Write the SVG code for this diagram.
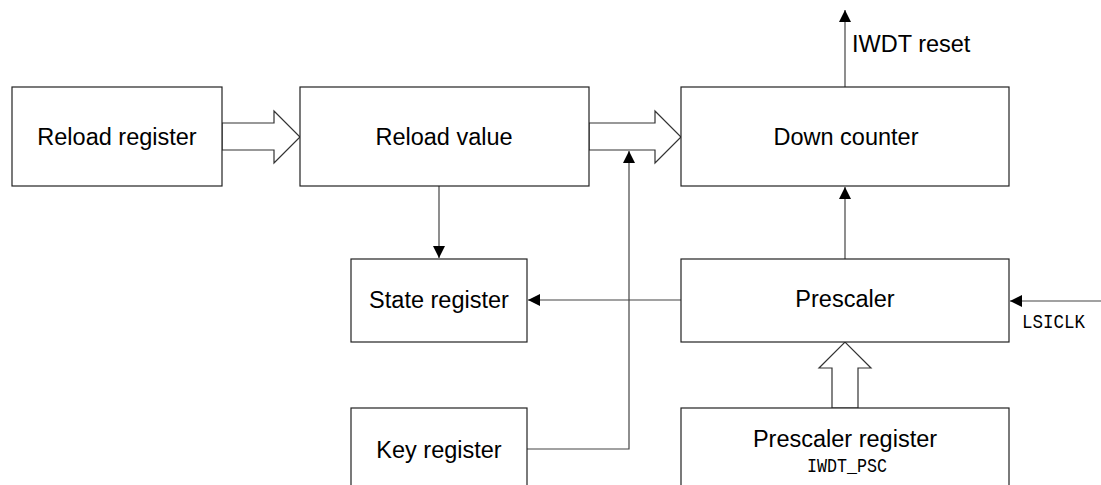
<svg xmlns="http://www.w3.org/2000/svg" width="1101" height="485" viewBox="0 0 1101 485">
<style>
.box{fill:#fff;stroke:#222;stroke-width:1.2}
.hollow{fill:#fff;stroke:#333;stroke-width:1.2}
.t{font-family:"Liberation Sans",Arial,sans-serif;font-size:23.5px;fill:#000;text-anchor:middle}
.m{font-family:"Liberation Mono","DejaVu Sans Mono",monospace;font-size:20px;fill:#000}
.c{fill:none;stroke:#444;stroke-width:1.2}
</style>
<defs>
<marker id="ah" markerUnits="userSpaceOnUse" markerWidth="12" markerHeight="12" viewBox="0 0 12 12" refX="12" refY="6" orient="auto">
<path d="M0,0 L12,6 L0,12 z" fill="#000"/>
</marker>
</defs>
<g id="connectors">
<polygon class="hollow" points="222,123 274,123 274,111 300,137 274,163 274,150 222,150"/>
<polygon class="hollow" points="589,123 655,123 655,111 681,137 655,163 655,150 589,150"/>
<polygon class="hollow" points="832,408 832,368 819,368 845,342 871,368 858,368 858,408"/>
<path class="c" d="M439,186 L439,258" marker-end="url(#ah)"/>
<path class="c" d="M681,300 L528,300" marker-end="url(#ah)"/>
<path class="c" d="M845,259 L845,187" marker-end="url(#ah)"/>
<path class="c" d="M845,87 L845,10" marker-end="url(#ah)"/>
<path class="c" d="M1101,301 L1010,301" marker-end="url(#ah)"/>
<path class="c" d="M527,449 L629,449 L629,151" marker-end="url(#ah)"/>
</g>
<g id="reload-register">
<rect class="box" x="12" y="87" width="210" height="99"/>
<text class="t" x="117" y="145">Reload register</text>
</g>
<g id="reload-value">
<rect class="box" x="300" y="87" width="289" height="99"/>
<text class="t" x="444" y="145">Reload value</text>
</g>
<g id="down-counter">
<rect class="box" x="681" y="87" width="328" height="99"/>
<text class="t" x="846" y="145">Down counter</text>
</g>
<g id="iwdt-reset">
<text class="t" x="852" y="52" style="text-anchor:start">IWDT reset</text>
</g>
<g id="state-register">
<rect class="box" x="351" y="259" width="176" height="83"/>
<text class="t" x="439" y="308">State register</text>
</g>
<g id="prescaler">
<rect class="box" x="681" y="259" width="328" height="83"/>
<text class="t" x="845" y="307">Prescaler</text>
</g>
<g id="lsiclk">
<text class="m" x="1022" y="328" textLength="63" lengthAdjust="spacingAndGlyphs">LSICLK</text>
</g>
<g id="key-register">
<rect class="box" x="351" y="408" width="176" height="90"/>
<text class="t" x="439" y="458">Key register</text>
</g>
<g id="prescaler-register">
<rect class="box" x="681" y="408" width="328" height="90"/>
<text class="t" x="845" y="447">Prescaler register</text>
<text class="m" x="807" y="472" textLength="80" lengthAdjust="spacingAndGlyphs">IWDT_PSC</text>
</g>
</svg>
